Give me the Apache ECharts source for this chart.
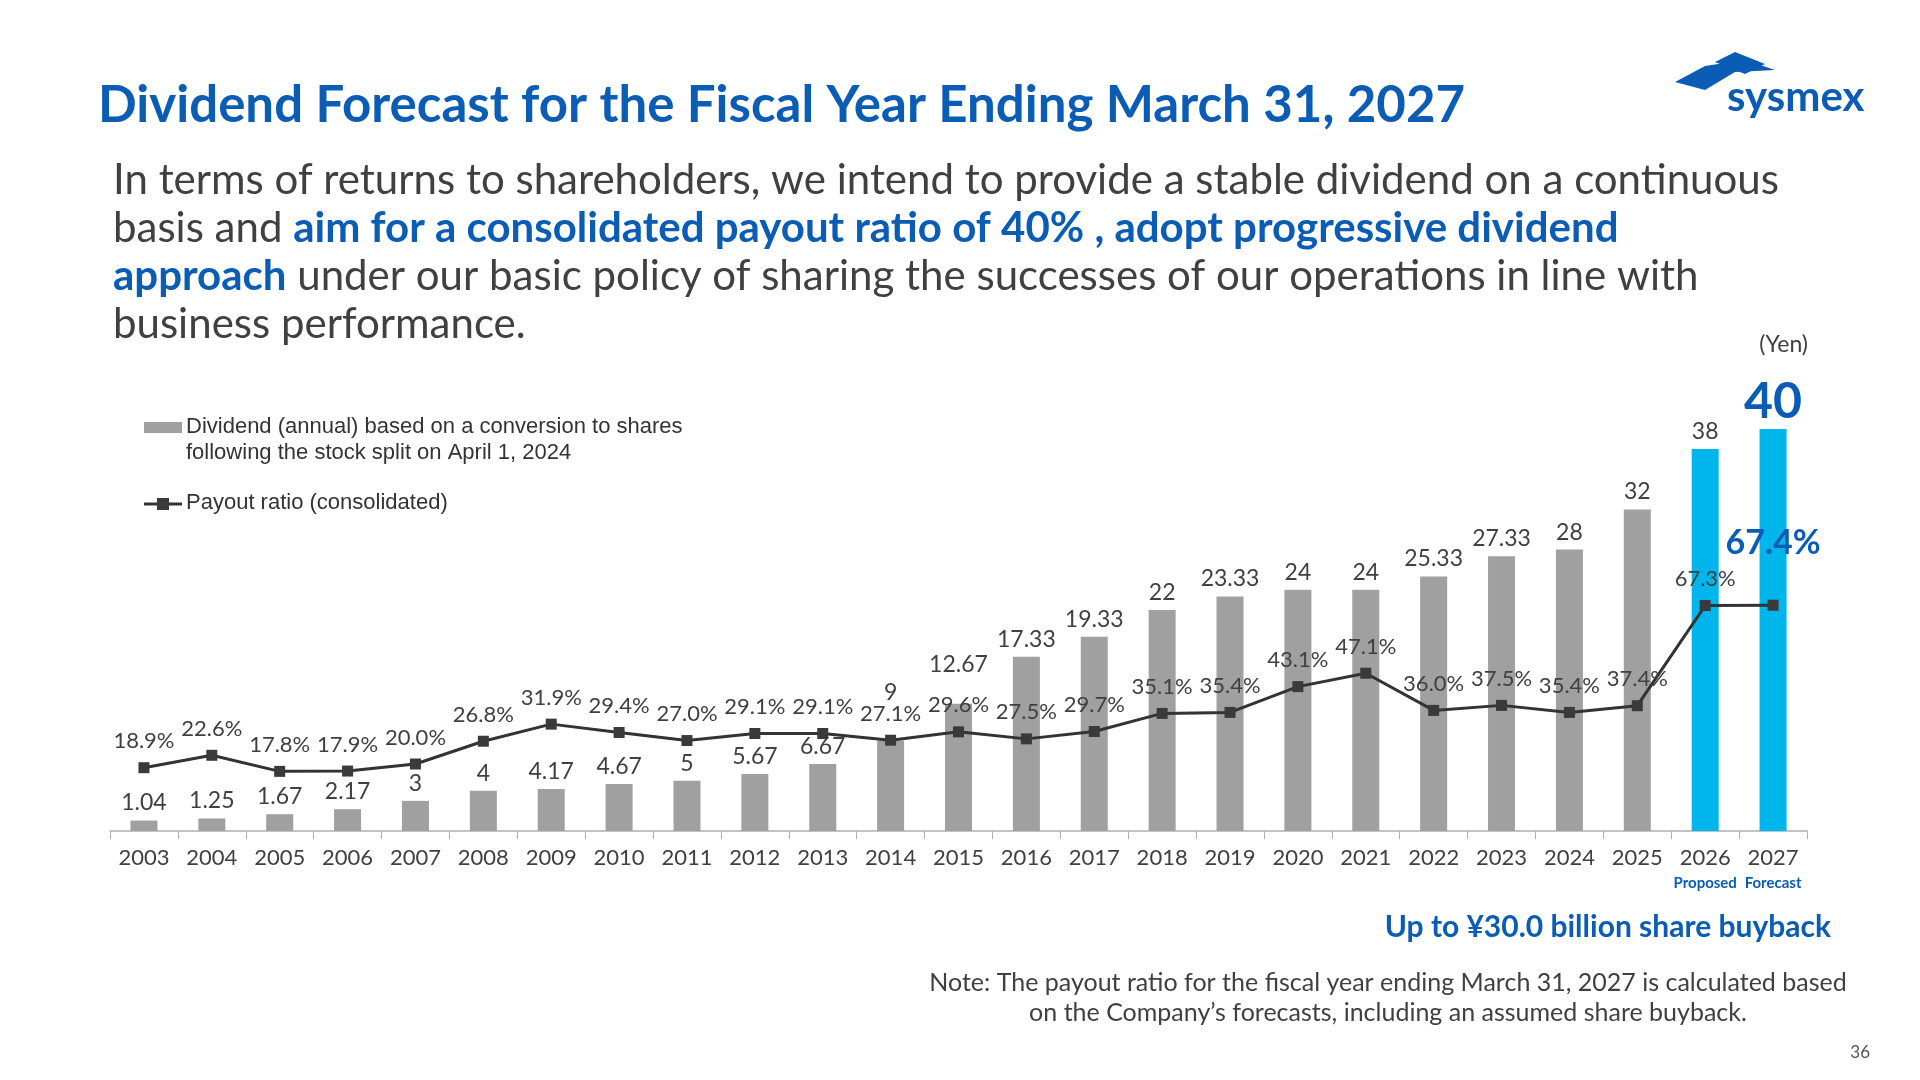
<!DOCTYPE html>
<html><head><meta charset="utf-8">
<script src="https://cdn.jsdelivr.net/npm/echarts@6/dist/echarts.min.js"></script>
<style>html,body{margin:0;padding:0;background:#fff}#c{width:1920px;height:1080px}</style>
</head><body><div id="c"></div>
<script>
const years = ['2003','2004','2005','2006','2007','2008','2009','2010','2011','2012','2013','2014','2015','2016','2017','2018','2019','2020','2021','2022','2023','2024','2025','2026','2027'];
const dividends = [1.04,1.25,1.67,2.17,3,4,4.17,4.67,5,5.67,6.67,9,12.67,17.33,19.33,22,23.33,24,24,25.33,27.33,28,32,38,40];
const payout = [18.9,22.6,17.8,17.9,20.0,26.8,31.9,29.4,27.0,29.1,29.1,27.1,29.6,27.5,29.7,35.1,35.4,43.1,47.1,36.0,37.5,35.4,37.4,67.3,67.4];
const subLabels = {'2026':'Proposed','2027':'Forecast'};

const BLUE = '#0b5cb5', GRAY = '#a0a0a0', CYAN = '#00b5ec', TXT = '#404040';
const F = 'Lato, "Noto Sans", sans-serif';
const chart = echarts.init(document.getElementById('c'));

const barData = dividends.map((v,i)=>{
  const y = years[i];
  const item = {value:v, itemStyle:{color:(y==='2026'||y==='2027')?CYAN:GRAY}};
  if (y==='2027') item.label = {fontSize:50, fontWeight:'bold', color:BLUE, distance:2};
  if (y==='2014') item.label = {offset:[0,-30]};
  if (y==='2015') item.label = {offset:[0,-22]};
  return item;
});
const lineData = payout.map((v,i)=>{
  const item = {value:v};
  if (years[i]==='2027') item.label = {fontSize:34, fontWeight:'bold', color:BLUE, offset:[0,-30]};
  return item;
});

chart.setOption({
  animation:false,
  grid:{left:110, right:113, top:429, bottom:249},
  xAxis:{type:'category', data:years,
    axisLine:{lineStyle:{color:'#b0b0b0', width:1.5}},
    axisTick:{show:true, length:8, lineStyle:{color:'#b0b0b0'}},
    axisLabel:{color:TXT, fontSize:22, fontFamily:F, margin:16, interval:0,
      formatter:v=> subLabels[v] ? v+'\n{s|'+subLabels[v]+'}' : v,
      rich:{s:{color:BLUE, fontSize:15, fontWeight:'bold', fontFamily:F, lineHeight:28}}}},
  yAxis:[{type:'value', min:0, max:40, show:false},
         {type:'value', min:0, max:120, show:false}],
  series:[
    {type:'bar', data:barData, barWidth:27, yAxisIndex:0,
      label:{show:true, position:'top', color:TXT, fontSize:23, fontFamily:F, distance:6}},
    {type:'line', data:lineData, yAxisIndex:1, symbol:'rect', symbolSize:11,
      lineStyle:{color:'#333', width:3}, itemStyle:{color:'#3a3a3a'},
      label:{show:true, position:'top', distance:10, color:TXT, fontSize:22, fontFamily:F,
        formatter:p=>p.value.toFixed(1)+'%'}}
  ],
  graphic:[
    {type:'text', left:98, top:80, style:{text:'Dividend Forecast for the Fiscal Year Ending March 31, 2027', fill:BLUE, font:'bold 51px '+F}},
    {type:'text', left:113, top:156, style:{
      text:'In terms of returns to shareholders, we intend to provide a stable dividend on a continuous\nbasis and {b|aim for a consolidated payout ratio of 40% , adopt progressive dividend}\n{b|approach} under our basic policy of sharing the successes of our operations in line with\nbusiness performance.',
      fill:'#404040', font:'42px '+F, lineHeight:48,
      rich:{b:{fill:BLUE, font:'bold 42px '+F, lineHeight:48}}}},
    {type:'group', left:1675, top:52, children:[
      {type:'polygon', shape:{points:[[0,30],[30,14],[70,8],[100,18],[60,20],[30,38]]}, style:{fill:BLUE}},
      {type:'polygon', shape:{points:[[40,10],[60,0],[90,12],[70,22]]}, style:{fill:BLUE}},
      {type:'text', x:52, y:24, style:{text:'sysmex', fill:BLUE, font:'bold 42px '+F}}
    ]},
    {type:'text', right:112, top:333, style:{text:'(Yen)', fill:TXT, font:'23px '+F}},
    {type:'rect', left:144, top:422, shape:{width:38,height:11}, style:{fill:GRAY}},
    {type:'text', left:186, top:414, style:{text:'Dividend (annual) based on a conversion to shares\nfollowing the stock split on April 1, 2024', fill:'#333', font:'22px "Liberation Sans", Arial, sans-serif', lineHeight:26}},
    {type:'line', shape:{x1:144,y1:504,x2:182,y2:504}, style:{stroke:'#333', lineWidth:3}},
    {type:'rect', left:157, top:498, shape:{width:12,height:12}, style:{fill:'#3a3a3a'}},
    {type:'text', left:186, top:492, style:{text:'Payout ratio (consolidated)', fill:'#333', font:'22px "Liberation Sans", Arial, sans-serif'}},
    {type:'text', right:89, top:912, style:{text:'Up to ¥30.0 billion share buyback', fill:BLUE, font:'bold 30px '+F}},
    {type:'text', x:1388, y:968, style:{text:'Note: The payout ratio for the fiscal year ending March 31, 2027 is calculated based\non the Company\u2019s forecasts, including an assumed share buyback.', fill:'#404040', font:'25px '+F, lineHeight:30, align:'center'}},
    {type:'text', right:50, top:1044, style:{text:'36', fill:'#555', font:'17px '+F}}
  ]
});
</script></body></html>
